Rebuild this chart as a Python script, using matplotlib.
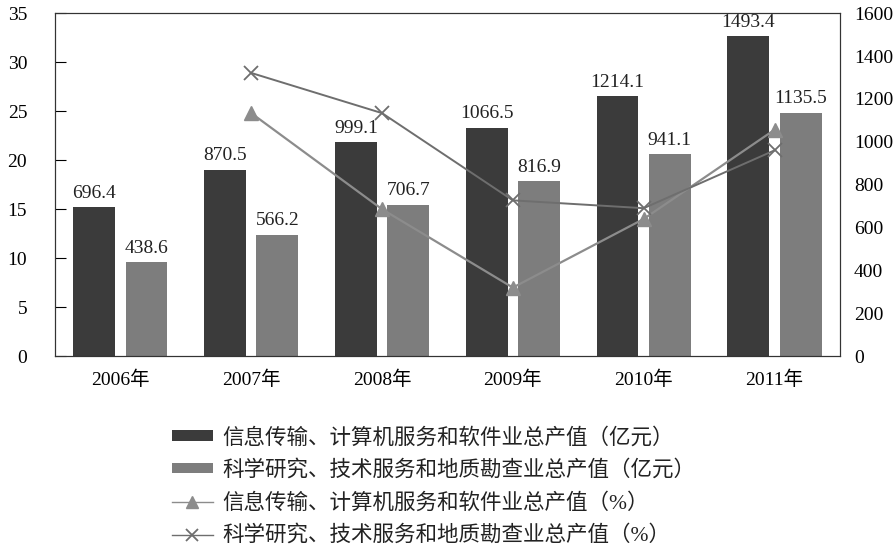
import numpy as np
import matplotlib.pyplot as plt

plt.rcParams['font.family'] = ['Liberation Serif', 'Noto Sans CJK SC']

years = ['2006年', '2007年', '2008年', '2009年', '2010年', '2011年']
info_value = [696.4, 870.5, 999.1, 1066.5, 1214.1, 1493.4]
sci_value = [438.6, 566.2, 706.7, 816.9, 941.1, 1135.5]
# growth rates (%), no value for 2006
info_pct = [np.nan, 24.8, 15.0, 7.0, 14.0, 23.1]
sci_pct = [np.nan, 28.9, 24.8, 15.9, 15.1, 21.0]

labels = ['信息传输、计算机服务和软件业总产值（亿元）',
          '科学研究、技术服务和地质勘查业总产值（亿元）',
          '信息传输、计算机服务和软件业总产值（%）',
          '科学研究、技术服务和地质勘查业总产值（%）']

x = np.arange(len(years))

fig = plt.figure(figsize=(8.94, 5.48), dpi=100)
ax = fig.add_axes([0.0615, 0.35, 0.878, 0.626])
ax2 = ax.twinx()

# bars on the right axis
w = 0.32
b1 = ax2.bar(x - 0.2, info_value, w, color='#3b3b3b', label=labels[0])
b2 = ax2.bar(x + 0.2, sci_value, w, color='#7d7d7d', label=labels[1])
for xi, v in zip(x, info_value):
    ax2.text(xi - 0.2, v + 25, '%.1f' % v, ha='center', va='bottom', fontsize=14, color='#222222')
for xi, v in zip(x, sci_value):
    ax2.text(xi + 0.2, v + 25, '%.1f' % v, ha='center', va='bottom', fontsize=14, color='#222222')
ax2.set_ylim(0, 1600)
ax2.set_yticks(range(0, 1601, 200))
ax2.tick_params(axis='y', length=0, labelsize=14, pad=10)

# lines on the left axis
l1, = ax.plot(x, info_pct, color='#8c8c8c', lw=1.6, marker='^', ms=10, label=labels[2])
l2, = ax.plot(x, sci_pct, color='#6e6e6e', lw=1.4, marker='x', ms=10, mew=1.3, label=labels[3])
ax.set_zorder(ax2.get_zorder() + 1)
ax.patch.set_visible(False)

ax.set_xlim(-0.5, 5.5)
ax.set_ylim(0, 35)
ax.set_yticks(range(0, 36, 5))
ax.set_xticks(x)
ax.set_xticklabels(years)
ax.tick_params(axis='y', direction='in', length=8, labelsize=14, pad=20)
ax.tick_params(axis='x', length=0, labelsize=14, pad=10)
for s in ax.spines.values():
    s.set_color('#333333')
for s in ax2.spines.values():
    s.set_color('#333333')

leg = fig.legend([b1, b2, l1, l2], labels, loc='upper left', bbox_to_anchor=(0.192, 0.22),
                 frameon=False, handlelength=1.9, handleheight=0.35, handletextpad=0.45,
                 labelspacing=0.55, borderaxespad=0, borderpad=0,
                 prop={'family': ['Liberation Serif', 'Noto Sans CJK SC'], 'size': 15.5})
for t in leg.get_texts():
    t.set_color('#222222')
for h in leg.get_lines():
    h.set_linewidth(1.0)
    h.set_markersize(8)

fig.savefig('out.png', dpi=100)
